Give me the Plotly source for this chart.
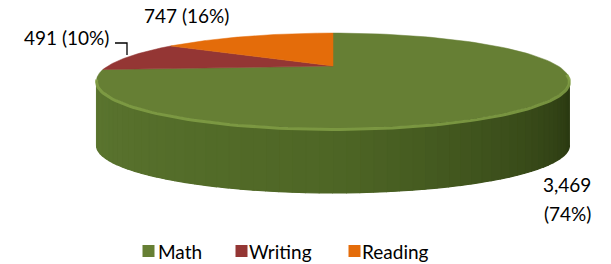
import math
import plotly.graph_objects as go

# ---- data ----
categories = ["Math", "Writing", "Reading"]
values = [3469, 491, 747]
colors = ["#667f34", "#943634", "#e46c0a"]
value_labels = ["3,469", "491", "747"]
pct_labels = ["(74%)", "(10%)", "(16%)"]

# ---- 3D-ish projection of the pie disk (pixel space) ----
W, H = 611, 264
CX, CY = 333, 66
FX, FY = 725, 760
ELEV = math.radians(10.5)
DIST = 3.22
THICK = 65

def proj(theta, drop=0.0):
    X = math.sin(theta)
    Z = math.cos(theta)
    yc = Z * math.sin(ELEV)
    zc = DIST + Z * math.cos(ELEV)
    return CX + FX * X / zc, CY - FY * yc / zc + drop

def arc(t0, t1, n=80, drop=0.0):
    pts = [proj(t0 + (t1 - t0) * i / n, drop) for i in range(n + 1)]
    return [p[0] for p in pts], [p[1] for p in pts]

total = sum(values)
fracs = [v / total for v in values]
bounds = [0.0]
for f in fracs:
    bounds.append(bounds[-1] + f * 2 * math.pi)

fig = go.Figure()

# side wall (visible front half between left/right extrema)
c = -math.cos(ELEV) / DIST
t_right = math.acos(c)
t_left = 2 * math.pi - t_right
n_strips = 60

def lerp(a, b, t):
    return tuple(int(round(a[i] + (b[i] - a[i]) * t)) for i in range(3))

left_col = (92, 118, 48)
mid_col = (78, 102, 37)
right_col = (40, 54, 16)

tx, ty = arc(t_right, t_left, 120)
bx, by = arc(t_left, t_right, 120, THICK)
base = "rgb(%d,%d,%d)" % mid_col
fig.add_trace(go.Scatter(x=tx + bx, y=ty + by, fill="toself", mode="lines",
                         line=dict(width=0, color=base), fillcolor=base,
                         hoverinfo="skip", showlegend=False))
for i in range(n_strips):
    a0 = t_right + (t_left - t_right) * i / n_strips
    a1 = t_right + (t_left - t_right) * (i + 1) / n_strips
    tx, ty = arc(a0, a1, 4)
    bx, by = arc(a1, a0, 4, THICK)
    pos = (i + 0.5) / n_strips  # 0 = right side, 1 = left side
    if pos < 0.5:
        col = lerp(right_col, mid_col, pos / 0.5)
    else:
        col = lerp(mid_col, left_col, (pos - 0.5) / 0.5)
    colstr = "rgb(%d,%d,%d)" % col
    fig.add_trace(go.Scatter(x=tx + bx, y=ty + by, fill="toself", mode="lines",
                             line=dict(width=1.2, color=colstr), fillcolor=colstr,
                             hoverinfo="skip", showlegend=False))

# top faces
for k, cat in enumerate(categories):
    ax, ay = arc(bounds[k], bounds[k + 1], 120)
    xs = [CX] + ax + [CX]
    ys = [CY] + ay + [CY]
    fig.add_trace(go.Scatter(x=xs, y=ys, fill="toself", mode="lines",
                             line=dict(width=0.5, color=colors[k]), fillcolor=colors[k],
                             name=cat, hoverinfo="skip", showlegend=False))

# rim highlight on the near edge
hx, hy = arc(t_right - 0.15, t_left + 0.05, 100, 1.5)
fig.add_trace(go.Scatter(x=hx, y=hy, mode="lines",
                         line=dict(width=3, color="rgba(130,160,70,0.85)"),
                         hoverinfo="skip", showlegend=False))

# legend (custom, to match spacing)
leg_sym_x = [148.5, 241.5, 354.5]
leg_txt_x = [158, 249, 362]
leg_y = 251
fig.add_trace(go.Scatter(x=leg_sym_x, y=[leg_y] * 3, mode="markers",
                         marker=dict(symbol="square", size=12, color=colors),
                         hoverinfo="skip", showlegend=False))
font = dict(family="Lato, Open Sans, sans-serif", size=19, color="#000000")
for k, cat in enumerate(categories):
    fig.add_annotation(x=leg_txt_x[k], y=leg_y, text=cat, showarrow=False, font=font,
                       xanchor="left", yanchor="middle", xshift=-2)

# data labels
fig.add_annotation(x=567, y=184, text=value_labels[0], showarrow=False, font=font,
                   xanchor="center", yanchor="middle")
fig.add_annotation(x=567, y=213, text=pct_labels[0], showarrow=False, font=font,
                   xanchor="center", yanchor="middle")
fig.add_annotation(x=111, y=37, text=value_labels[1] + " " + pct_labels[1], showarrow=False,
                   font=font, xanchor="right", yanchor="middle")
fig.add_annotation(x=186, y=15, text=value_labels[2] + " " + pct_labels[2], showarrow=False,
                   font=font, xanchor="center", yanchor="middle")
fig.add_trace(go.Scatter(x=[115, 127, 127], y=[43, 43, 55], mode="lines",
                         line=dict(color="#000000", width=1.3),
                         hoverinfo="skip", showlegend=False))

fig.update_layout(
    width=W, height=H,
    margin=dict(l=0, r=0, t=0, b=0),
    paper_bgcolor="white", plot_bgcolor="white",
    xaxis=dict(range=[0, W], visible=False, fixedrange=True),
    yaxis=dict(range=[H, 0], visible=False, fixedrange=True),
    showlegend=False,
)

fig.write_html("out.html", config={"displayModeBar": False},
               post_script="document.body.style.margin='0';document.body.style.overflow='hidden';")
